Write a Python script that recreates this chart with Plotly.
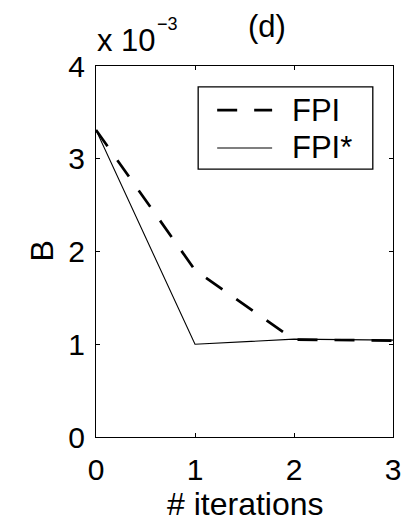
import plotly.graph_objects as go

iterations = [0, 1, 2, 3]
fpi = [3.31, 1.80, 1.05, 1.04]
fpi_star = [3.31, 1.00, 1.055, 1.045]
x_ticks = [0, 1, 2, 3]
y_ticks = [0, 1, 2, 3, 4]
series_names = ["FPI", "FPI*"]

FONT = "Liberation Sans, Arial, Helvetica, sans-serif"
DASH = "20px,17px"

fig = go.Figure()
fig.add_trace(go.Scatter(x=iterations, y=fpi, mode="lines", name=series_names[0],
                         line=dict(color="black", width=2.7, dash=DASH)))
fig.add_trace(go.Scatter(x=iterations, y=fpi_star, mode="lines", name=series_names[1],
                         line=dict(color="black", width=1.1)))

axis_common = dict(showline=True, linecolor="black", linewidth=1.2, mirror="ticks",
                   ticks="inside", ticklen=4, tickcolor="black", tickwidth=1,
                   showgrid=False, zeroline=False,
                   tickfont=dict(family=FONT, size=30, color="black"))

# manual MATLAB-style legend (paper coordinates of the plot area)
lx0, lx1, ly0, ly1 = 0.344, 0.932, 0.722, 0.944
sx0, sx1, tx = 0.408, 0.593, 0.653
rows_y = [0.881, 0.779]
shapes = [dict(type="rect", xref="paper", yref="paper", x0=lx0, x1=lx1, y0=ly0, y1=ly1,
               line=dict(color="black", width=1.3), fillcolor="white", layer="above")]
shapes.append(dict(type="line", xref="paper", yref="paper", x0=sx0, x1=sx1,
                   y0=rows_y[0], y1=rows_y[0], line=dict(color="black", width=2.7, dash=DASH),
                   layer="above"))
shapes.append(dict(type="line", xref="paper", yref="paper", x0=sx0, x1=sx1,
                   y0=rows_y[1], y1=rows_y[1], line=dict(color="black", width=1.1),
                   layer="above"))

annotations = [
    dict(text="(d)", xref="paper", yref="paper", x=0.577, y=1.0, yshift=40,
         xanchor="center", yanchor="middle", showarrow=False,
         font=dict(family=FONT, size=31, color="black")),
    dict(text="x 10", xref="paper", yref="paper", x=0.0, y=1.0, yshift=26, xshift=-1,
         xanchor="left", yanchor="middle", showarrow=False,
         font=dict(family=FONT, size=31, color="black")),
    dict(text="−3", xref="paper", yref="paper", x=0.2424, y=1.0, yshift=42,
         xanchor="center", yanchor="middle", showarrow=False,
         font=dict(family=FONT, size=18, color="black")),
    dict(text="# iterations", xref="paper", yref="paper", x=0.502, y=0.0, yshift=-67,
         xanchor="center", yanchor="middle", showarrow=False,
         font=dict(family=FONT, size=32, color="black")),
    dict(text="B", xref="paper", yref="paper", x=0.0, y=0.5, xshift=-55,
         xanchor="center", yanchor="middle", showarrow=False, textangle=-90,
         font=dict(family=FONT, size=32, color="black")),
]
for name, ry in zip(series_names, rows_y):
    annotations.append(dict(text=name, xref="paper", yref="paper", x=tx, y=ry,
                            xanchor="left", yanchor="middle", showarrow=False,
                            font=dict(family=FONT, size=31, color="black")))

fig.update_layout(
    width=406, height=513,
    margin=dict(l=88, r=21, t=58, b=84),
    plot_bgcolor="white", paper_bgcolor="white",
    xaxis=dict(range=[0, 3], tickvals=x_ticks, ticktext=[str(v) for v in x_ticks],
               ticklabelstandoff=6, **axis_common),
    yaxis=dict(range=[0, 4], tickvals=y_ticks, ticktext=[str(v) for v in y_ticks],
               ticklabelstandoff=4, **axis_common),
    showlegend=False,
    shapes=shapes,
    annotations=annotations,
)

fig.write_html("out.html")
